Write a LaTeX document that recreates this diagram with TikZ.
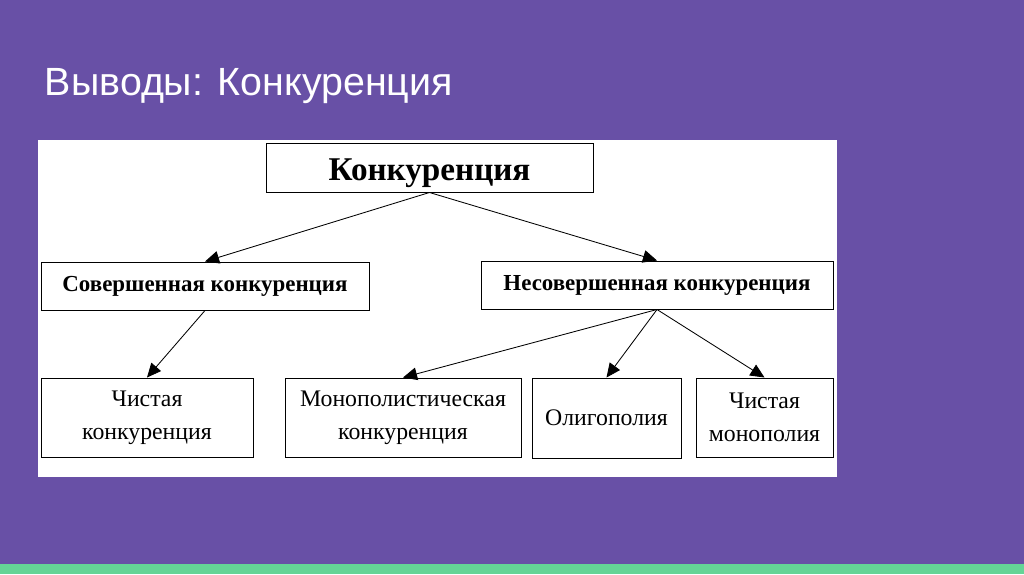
\documentclass[tikz,border=0pt]{standalone}
\usepackage{fontspec}
\setmainfont{Liberation Serif}
\newfontfamily\titlefont{Liberation Sans}
\usetikzlibrary{arrows.meta}
\definecolor{slide}{RGB}{104,80,166}
\definecolor{strip}{RGB}{100,212,150}
\tikzset{
  box/.style={draw=black, line width=0.7pt, fill=white, align=center, inner sep=0pt},
  link/.style={line width=0.6pt, -{Triangle[length=10pt,width=9pt]}}
}

\begin{document}
\begin{tikzpicture}[x=0.025cm, y=-0.025cm]
    \useasboundingbox (0,0) rectangle (1024,574);
    \fill[slide] (0,0) rectangle (1024,574);
    \fill[strip] (0,564) rectangle (1024,574);
    \node[anchor=west, text=white, font=\titlefont\fontsize{28}{32}\selectfont] (title) at (40,86) {Выводы: Конкуренция};
    \fill[white] (38,140) rectangle (837,477);

    \node[box, minimum width=327*0.025cm, minimum height=49*0.025cm, text height=19pt, text depth=0pt, font=\bfseries\fontsize{23.6}{28}\selectfont] (konk) at (429.5,167.5) {Конкуренция};
    \node[box, minimum width=328*0.025cm, minimum height=48*0.025cm, font=\bfseries\fontsize{16.3}{19}\selectfont] (sov) at (205,286) {Совершенная конкуренция};
    \node[box, minimum width=352*0.025cm, minimum height=48*0.025cm, font=\bfseries\fontsize{16.3}{19}\selectfont] (nesov) at (657,285) {Несовершенная конкуренция};

    \node[box, minimum width=212*0.025cm, minimum height=79*0.025cm, font=\fontsize{16.9}{23.5}\selectfont] (chist) at (147,417.5) {Чистая\\конкуренция};
    \node[box, minimum width=236*0.025cm, minimum height=79*0.025cm, font=\fontsize{16.9}{23.5}\selectfont] (mono) at (403,417.5) {Монополистическая\\конкуренция};
    \node[box, minimum width=149*0.025cm, minimum height=80*0.025cm, font=\fontsize{16.9}{23.5}\selectfont] (olig) at (606.5,418) {Олигополия};
    \node[box, minimum width=137*0.025cm, minimum height=79*0.025cm, font=\fontsize{16.9}{23.5}\selectfont] (chmon) at (764.5,417.5) {Чистая\\монополия};

    \draw[link] (konk.south) -- (sov.north);
    \draw[link] (konk.south) -- (nesov.north);
    \draw[link] (sov.south) -- (chist.north);
    \draw[link] (nesov.south) -- (mono.north);
    \draw[link] (nesov.south) -- (olig.north);
    \draw[link] (nesov.south) -- (chmon.north);
\end{tikzpicture}
\end{document}
